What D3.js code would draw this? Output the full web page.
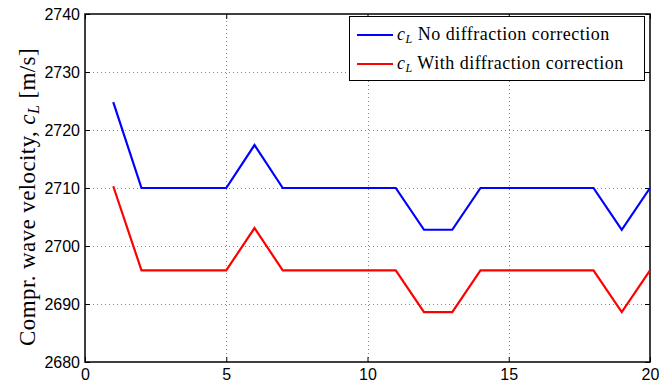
<!DOCTYPE html>
<html>
<head>
<meta charset="utf-8">
<script src="https://cdn.jsdelivr.net/npm/d3@7"></script>
<style>
  body { margin: 0; background: #fff; }
  text { fill: #000; }
</style>
</head>
<body>
<div id="chart"></div>
<script>
var width = 659;
var height = 388;
var margin = {top: 14, right: 9, bottom: 26, left: 85};

// data
var xs = [1, 2, 3, 4, 5, 6, 7, 8, 9, 10, 11, 12, 13, 14, 15, 16, 17, 18, 19, 20];
var noCorrection = [2724.8, 2710, 2710, 2710, 2710, 2717.4, 2710, 2710, 2710, 2710, 2710, 2702.8, 2702.8, 2710, 2710, 2710, 2710, 2710, 2702.8, 2710];
var withCorrection = [2710.3, 2695.8, 2695.8, 2695.8, 2695.8, 2703.1, 2695.8, 2695.8, 2695.8, 2695.8, 2695.8, 2688.6, 2688.6, 2695.8, 2695.8, 2695.8, 2695.8, 2695.8, 2688.6, 2695.8];
var xTicks = [0, 5, 10, 15, 20];
var yTicks = [2680, 2690, 2700, 2710, 2720, 2730, 2740];
var seriesNames = ["No diffraction correction", "With diffraction correction"];
var seriesColors = ["#0000ff", "#ff0000"];

var svg = d3.select("#chart")
  .append("svg")
  .attr("width", width)
  .attr("height", height);

var x = d3.scaleLinear().domain([0, 20]).range([margin.left, width - margin.right]);
var y = d3.scaleLinear().domain([2680, 2740]).range([height - margin.bottom, margin.top]);

// grid
var grid = svg.append("g")
  .attr("stroke", "#888")
  .attr("stroke-width", 1)
  .attr("stroke-dasharray", "1,3");

grid.selectAll(".gx")
  .data(xTicks.slice(1, -1))
  .enter()
  .append("line")
  .attr("x1", function(d){ return Math.round(x(d)) + 0.5; })
  .attr("x2", function(d){ return Math.round(x(d)) + 0.5; })
  .attr("y1", y(2680))
  .attr("y2", y(2740));

grid.selectAll(".gy")
  .data(yTicks.slice(1, -1))
  .enter()
  .append("line")
  .attr("y1", function(d){ return Math.round(y(d)) + 0.5; })
  .attr("y2", function(d){ return Math.round(y(d)) + 0.5; })
  .attr("x1", x(0))
  .attr("x2", x(20));

// axes
var axisFont = "'Liberation Sans', Arial, sans-serif";
var fmt = d3.format("d");

var xAxis = d3.axisBottom(x).tickValues(xTicks).tickFormat(fmt).tickSizeInner(-5).tickSizeOuter(0).tickPadding(7);
var yAxis = d3.axisLeft(y).tickValues(yTicks).tickFormat(fmt).tickSizeInner(-5).tickSizeOuter(0).tickPadding(5);

svg.append("g")
  .attr("transform", "translate(0," + y(2680) + ")")
  .call(xAxis)
  .call(function(g){ g.select(".domain").remove(); })
  .selectAll("text")
  .style("font-family", axisFont)
  .style("font-size", "16px");

svg.append("g")
  .attr("transform", "translate(" + x(0) + ",0)")
  .call(yAxis)
  .call(function(g){ g.select(".domain").remove(); })
  .selectAll("text")
  .style("font-family", axisFont)
  .style("font-size", "16px");

// top and right ticks
svg.append("g")
  .attr("transform", "translate(0," + y(2740) + ")")
  .call(d3.axisTop(x).tickValues(xTicks).tickSizeInner(-5).tickSizeOuter(0).tickFormat(""))
  .call(function(g){ g.select(".domain").remove(); });

svg.append("g")
  .attr("transform", "translate(" + x(20) + ",0)")
  .call(d3.axisRight(y).tickValues(yTicks).tickSizeInner(-5).tickSizeOuter(0).tickFormat(""))
  .call(function(g){ g.select(".domain").remove(); });

// box
svg.append("rect")
  .attr("x", x(0))
  .attr("y", y(2740))
  .attr("width", x(20) - x(0))
  .attr("height", y(2680) - y(2740))
  .attr("fill", "none")
  .attr("stroke", "#000")
  .attr("stroke-width", 1.5);

// lines
var line = d3.line()
  .x(function(d){ return x(d[0]); })
  .y(function(d){ return y(d[1]); });

[noCorrection, withCorrection].forEach(function(vals, i){
  svg.append("path")
    .datum(xs.map(function(v, j){ return [v, vals[j]]; }))
    .attr("d", line)
    .attr("fill", "none")
    .attr("stroke", seriesColors[i])
    .attr("stroke-width", 2.2)
    .attr("stroke-linejoin", "miter");
});

// y label
var serif = "'Liberation Serif', 'Times New Roman', serif";
var ylab = svg.append("text")
  .attr("transform", "translate(35,197) rotate(-90)")
  .attr("text-anchor", "middle")
  .style("font-family", serif)
  .style("font-size", "23px")
  .style("letter-spacing", "0.4px");
ylab.append("tspan").text("Compr. wave velocity, ");
ylab.append("tspan").style("font-style", "italic").text("c");
ylab.append("tspan").style("font-style", "italic").style("font-size", "16px").attr("dy", 4).text("L");
ylab.append("tspan").attr("dy", -4).text(" [m/s]");

// legend
var legend = svg.append("g").attr("class", "legend");

legend.append("rect")
  .attr("x", 349.5)
  .attr("y", 16.5)
  .attr("width", 295)
  .attr("height", 64)
  .attr("fill", "#fff")
  .attr("stroke", "#000")
  .attr("stroke-width", 1);

var items = legend.selectAll(".item")
  .data(seriesNames)
  .enter()
  .append("g")
  .attr("transform", function(d, i){ return "translate(0," + (35 + i * 29) + ")"; });

items.append("line")
  .attr("x1", 357)
  .attr("x2", 393)
  .attr("stroke", function(d, i){ return seriesColors[i]; })
  .attr("stroke-width", 2.2);

var lt = items.append("text")
  .attr("x", 397)
  .attr("y", 5)
  .style("font-family", serif)
  .style("font-size", "18px")
  .style("letter-spacing", "0.5px");
lt.append("tspan").style("font-style", "italic").text("c");
lt.append("tspan").style("font-style", "italic").style("font-size", "12px").attr("dy", 3).text("L");
lt.append("tspan").attr("dy", -3).text(function(d){ return " " + d; });
</script>
</body>
</html>
